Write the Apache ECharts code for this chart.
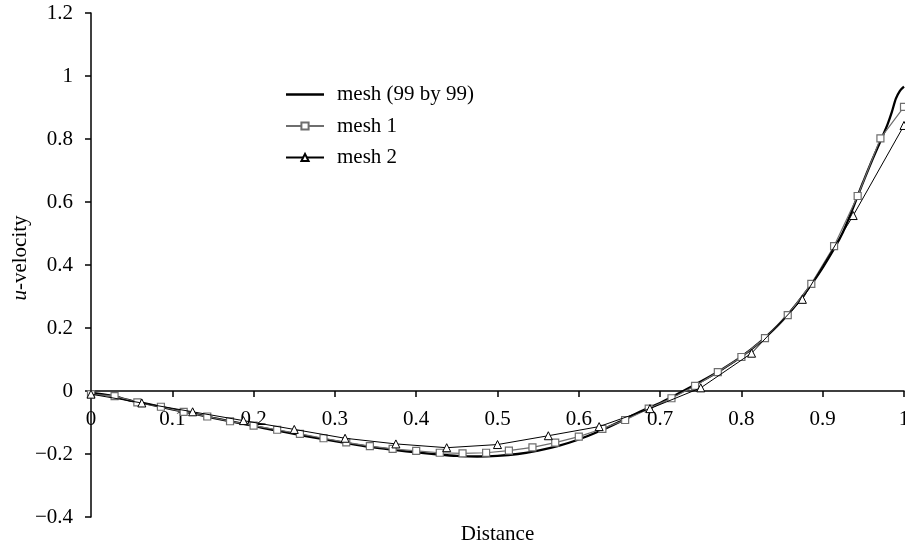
<!DOCTYPE html>
<html>
<head>
<meta charset="utf-8">
<title>u-velocity profiles</title>
<script src="https://cdn.jsdelivr.net/npm/echarts@6/dist/echarts.min.js"></script>
<style>
  html, body { margin: 0; padding: 0; background: #fff; }
  #chart { width: 905px; height: 545px; }
</style>
</head>
<body>
<div id="chart"></div>
<script>
// Reference solution on the fine grid (continuous curve)
var fineX = [0, 0.025, 0.05, 0.075, 0.1, 0.125, 0.15, 0.175, 0.2, 0.225, 0.25, 0.275, 0.3,
  0.325, 0.35, 0.375, 0.4, 0.425, 0.45, 0.475, 0.5, 0.525, 0.55, 0.575, 0.6, 0.625, 0.65,
  0.675, 0.7, 0.725, 0.75, 0.775, 0.8, 0.825, 0.85, 0.875, 0.9, 0.925, 0.95, 0.96, 0.973,
  0.98, 0.985, 0.99, 0.995, 1];
var fineU = [-0.005, -0.015, -0.031, -0.044, -0.058, -0.071, -0.085, -0.098, -0.111, -0.124,
  -0.136, -0.148, -0.159, -0.170, -0.180, -0.188, -0.195, -0.201, -0.206, -0.208, -0.206,
  -0.200, -0.189, -0.174, -0.154, -0.128, -0.098, -0.066, -0.038, -0.005, 0.030, 0.067,
  0.109, 0.160, 0.222, 0.300, 0.392, 0.505, 0.665, 0.728, 0.805, 0.848, 0.885, 0.928,
  0.953, 0.966];

// Coarse mesh 1 (square markers)
var mesh1X = [0, 0.029, 0.057, 0.086, 0.114, 0.143, 0.171, 0.2, 0.229, 0.257, 0.286, 0.314,
  0.343, 0.371, 0.4, 0.429, 0.457, 0.486, 0.514, 0.543, 0.571, 0.6, 0.629, 0.657, 0.686,
  0.714, 0.743, 0.771, 0.8, 0.829, 0.857, 0.886, 0.914, 0.943, 0.971, 1];
var mesh1U = [-0.010, -0.016, -0.036, -0.050, -0.066, -0.081, -0.096, -0.110, -0.123, -0.136,
  -0.150, -0.163, -0.175, -0.184, -0.190, -0.196, -0.198, -0.196, -0.189, -0.179, -0.164,
  -0.145, -0.120, -0.092, -0.056, -0.023, 0.016, 0.060, 0.108, 0.168, 0.241, 0.340, 0.460,
  0.619, 0.802, 0.902];

// Coarse mesh 2 (triangle markers)
var mesh2X = [0, 0.0625, 0.125, 0.1875, 0.25, 0.3125, 0.375, 0.4375, 0.5, 0.5625, 0.625,
  0.6875, 0.75, 0.8125, 0.875, 0.9375, 1];
var mesh2U = [-0.010, -0.038, -0.066, -0.094, -0.122, -0.150, -0.168, -0.180, -0.170, -0.142,
  -0.113, -0.056, 0.010, 0.120, 0.291, 0.557, 0.843];

var seriesNames = ['mesh (99 by 99)', 'mesh 1', 'mesh 2'];
var xTicks = ['0', '0.1', '0.2', '0.3', '0.4', '0.5', '0.6', '0.7', '0.8', '0.9', '1'];
var yTicks = ['\u22120.4', '\u22120.2', '0', '0.2', '0.4', '0.6', '0.8', '1', '1.2'];

var Y_MIN = -0.4, Y_MAX = 1.2;

function pairs(xs, ys) {
  return xs.map(function (x, i) { return [x, ys[i]]; });
}

var FONT = '"Liberation Serif", "DejaVu Serif", serif';
var GRID_TOP = 13, GRID_BOTTOM = 28, H = 545;
// The horizontal axis crosses the vertical one at u = 0; shift it up from the grid's bottom edge
var plotH = H - GRID_TOP - GRID_BOTTOM;
var zeroShift = plotH * (0 - Y_MIN) / (Y_MAX - Y_MIN);

var chart = echarts.init(document.getElementById('chart'), null, { renderer: 'canvas' });

chart.setOption({
  animation: false,
  backgroundColor: '#ffffff',
  textStyle: { fontFamily: FONT, color: '#000' },
  grid: { left: 91, right: 1, top: GRID_TOP, bottom: GRID_BOTTOM, containLabel: false, outerBoundsMode: 'none' },
  legend: {
    orient: 'vertical',
    left: 280,
    top: 79,
    itemWidth: 38,
    itemHeight: 9,
    itemGap: 10.5,
    data: [
      { name: seriesNames[0], icon: 'path://M0,0h38v2.3h-38z' },
      { name: seriesNames[1] },
      { name: seriesNames[2] }
    ],
    textStyle: { fontFamily: FONT, fontSize: 21, color: '#000', padding: [0, 0, 0, 8] }
  },
  xAxis: {
    type: 'value',
    min: 0,
    max: 1,
    interval: 0.1,
    offset: -zeroShift,
    name: 'Distance',
    nameLocation: 'middle',
    nameGap: 133,
    nameTextStyle: { fontFamily: FONT, fontSize: 21, color: '#000' },
    axisLine: { onZero: false, lineStyle: { color: '#000', width: 1.5 } },
    axisTick: { inside: false, length: 6, lineStyle: { color: '#000', width: 1.5 } },
    axisLabel: {
      margin: 18,
      fontFamily: FONT,
      fontSize: 21,
      color: '#000',
      showMaxLabel: true,
      formatter: function (v) { return xTicks[Math.round(v * 10)]; }
    },
    splitLine: { show: false }
  },
  yAxis: {
    type: 'value',
    min: Y_MIN,
    max: Y_MAX,
    interval: 0.2,
    axisLine: { onZero: false, lineStyle: { color: '#000', width: 1.5 } },
    axisTick: { inside: false, length: 6, lineStyle: { color: '#000', width: 1.5 } },
    axisLabel: {
      margin: 18,
      fontFamily: FONT,
      fontSize: 21,
      color: '#000',
      formatter: function (v) { return yTicks[Math.round((v - Y_MIN) * 5)]; }
    },
    splitLine: { show: false }
  },
  graphic: [{
    type: 'text',
    x: 20,
    y: 258,
    rotation: Math.PI / 2,
    style: {
      text: '{i|u}-velocity',
      fontFamily: FONT,
      fontSize: 21,
      fill: '#000',
      align: 'center',
      verticalAlign: 'middle',
      rich: { i: { fontStyle: 'italic', fontFamily: FONT, fontSize: 21 } }
    }
  }],
  series: [
    {
      name: seriesNames[0],
      type: 'line',
      data: pairs(fineX, fineU),
      smooth: 0.3,
      symbol: 'none',
      lineStyle: { color: '#000', width: 2.3 },
      itemStyle: { color: '#000' },
      z: 2
    },
    {
      name: seriesNames[1],
      type: 'line',
      data: pairs(mesh1X, mesh1U),
      symbol: 'rect',
      symbolSize: 7,
      showSymbol: true,
      lineStyle: { color: '#6e6e6e', width: 1.2 },
      itemStyle: { color: '#ffffff', borderColor: '#6e6e6e', borderWidth: 1.2 },
      z: 3
    },
    {
      name: seriesNames[2],
      type: 'line',
      data: pairs(mesh2X, mesh2U),
      symbol: 'triangle',
      symbolSize: 8,
      showSymbol: true,
      lineStyle: { color: '#000', width: 1 },
      itemStyle: { color: '#ffffff', borderColor: '#000', borderWidth: 1 },
      z: 4
    }
  ]
});
</script>
</body>
</html>
